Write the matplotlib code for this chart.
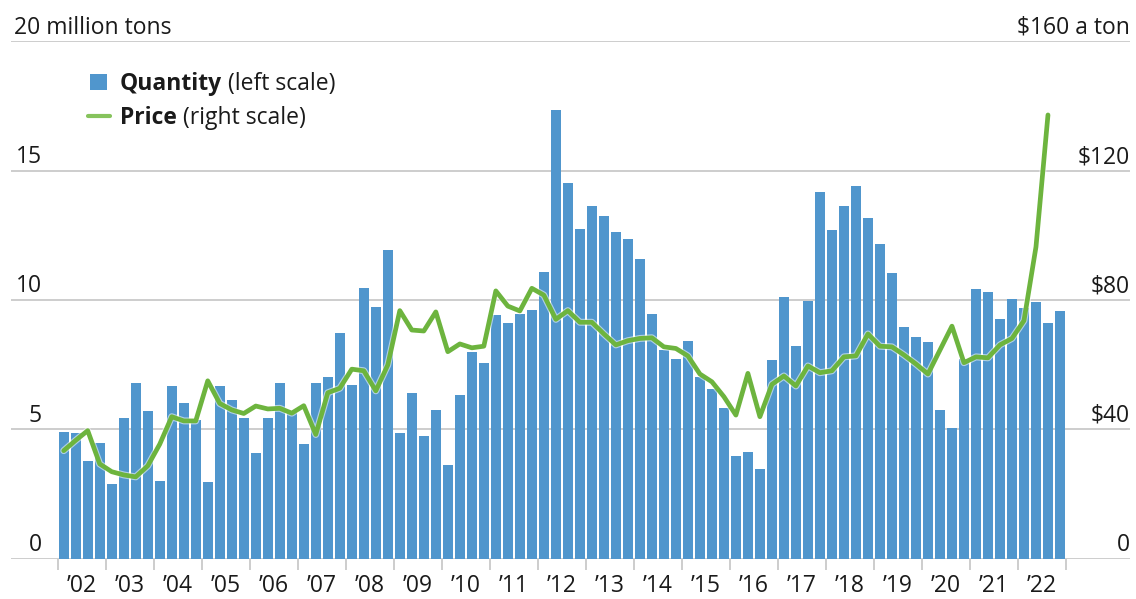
import matplotlib
matplotlib.use("Agg")
import matplotlib.pyplot as plt
import matplotlib.patheffects as pe
from matplotlib.transforms import blended_transform_factory, offset_copy
from matplotlib.patches import Rectangle
from matplotlib.lines import Line2D
import numpy as np

# ---------------- data ----------------
years = ["’02", "’03", "’04", "’05", "’06", "’07", "’08", "’09", "’10", "’11",
         "’12", "’13", "’14", "’15", "’16", "’17", "’18", "’19", "’20", "’21", "’22"]

# quarterly quantity, million tons (2002 Q1 .. 2022 Q4)
quantity = [4.91, 4.84, 3.76, 4.47, 2.89, 5.45, 6.80, 5.72,
            3.01, 6.69, 6.00, 5.36, 2.95, 6.69, 6.13, 5.44,
            4.08, 5.45, 6.80, 5.62, 4.42, 6.80, 7.01, 8.71,
            6.71, 10.47, 9.74, 11.93, 4.84, 6.39, 4.75, 5.75,
            3.62, 6.34, 8.00, 7.57, 9.42, 9.12, 9.44, 9.61,
            11.09, 17.34, 14.51, 12.75, 13.63, 13.25, 12.61, 12.34,
            11.58, 9.44, 8.06, 7.73, 8.42, 7.03, 6.57, 5.82,
            3.98, 4.13, 3.45, 7.68, 10.10, 8.23, 9.95, 14.17,
            12.70, 13.63, 14.40, 13.18, 12.15, 11.04, 8.97, 8.58,
            8.36, 5.75, 5.05, 7.70, 10.41, 10.29, 9.26, 10.05,
            9.67, 9.91, 9.12, 9.56]

# quarterly price, $ a ton (2002 Q1 .. 2022 Q3)
price = [33.4, 36.6, 39.6, 29.3, 26.9, 25.9, 25.3, 28.7,
         35.4, 43.9, 42.6, 42.6, 55.0, 48.0, 46.0, 44.9,
         47.2, 46.3, 46.5, 45.0, 47.3, 38.4, 51.3, 52.7,
         58.6, 58.1, 51.9, 59.9, 76.7, 70.7, 70.4, 76.3,
         64.0, 66.4, 65.2, 65.7, 82.8, 78.1, 76.6, 83.6,
         81.5, 74.0, 76.7, 73.1, 73.1, 69.5, 66.1, 67.4,
         68.1, 68.3, 65.5, 65.0, 62.7, 57.1, 54.7, 50.1,
         44.4, 57.3, 43.9, 53.9, 56.5, 53.4, 59.6, 57.5,
         58.1, 62.4, 62.7, 69.5, 65.7, 65.5, 63.0, 60.2,
         57.1, 64.5, 71.9, 60.6, 62.4, 62.1, 66.1, 68.1,
         73.6, 96.4, 137.2]

left_ticks = [0, 5, 10, 15]
left_top_label = "20 million tons"
right_tick_labels = ["0", "$40", "$80", "$120"]
right_top_label = "$160 a ton"
legend_bold = ["Quantity", "Price"]
legend_rest = [" (left scale)", " (right scale)"]

# ---------------- style ----------------
BLUE = "#5096cd"
GREEN = "#6db43e"
GRID = "#c9c9c9"
TEXT = "#1a1a1a"
FS = 16.5

plt.rcParams['font.family'] = ['Open Sans', 'DejaVu Sans']

W, H = 1136, 599
fig = plt.figure(figsize=(W / 100, H / 100), dpi=100)
ax_l, ax_r, ax_b, ax_t = 11, 1130, 558.7, 41.2
ax = fig.add_axes([ax_l / W, 1 - ax_b / H, (ax_r - ax_l) / W, (ax_b - ax_t) / H])

n_q = len(quantity)
x = np.arange(n_q)
ax.bar(x, quantity, width=0.82, color=BLUE, zorder=2, linewidth=0)

# x-range: year boundary ticks at -0.5 + 4k, 12 px per quarter
ax.set_xlim(-0.5 - (57.7 - ax_l) / 12.0, n_q - 0.5 + (ax_r - 1066) / 12.0)
ax.set_ylim(0, 20)

for v in [0, 5, 10, 15, 20]:
    ax.axhline(v, color=GRID, lw=1.3, zorder=1)

for s in ax.spines.values():
    s.set_visible(False)

ax.set_yticks([])
ax.set_xticks(np.arange(-0.5, n_q, 4))
ax.set_xticklabels([])
ax.tick_params(axis='x', which='major', length=8, width=1.3, color=GRID, direction='out')
ax.set_xticks(np.arange(len(years)) * 4 + 1.5, minor=True)
ax.set_xticklabels(years, minor=True, fontsize=FS, color=TEXT)
ax.tick_params(axis='x', which='minor', length=0, pad=11)

# left labels
trans_l = offset_copy(blended_transform_factory(fig.transFigure, ax.transData), fig=fig, y=7.5, units='dots')
for v in left_ticks:
    ax.text(42 / W, v, str(v), transform=trans_l, ha='right', va='baseline',
            fontsize=FS, color=TEXT)
ax.text(14 / W, 20, left_top_label, transform=trans_l, ha='left', va='baseline',
        fontsize=FS, color=TEXT)

# right axis / price
ax2 = ax.twinx()
ax2.set_ylim(0, 160)
for s in ax2.spines.values():
    s.set_visible(False)
ax2.set_yticks([])
ax2.plot(np.arange(len(price)), price, color=GREEN, lw=3.4, solid_joinstyle='round',
         solid_capstyle='round', zorder=3,
         path_effects=[pe.Stroke(linewidth=5.0, foreground='white', alpha=0.55), pe.Normal()])

trans_r = offset_copy(blended_transform_factory(fig.transFigure, ax2.transData), fig=fig, y=7.5, units='dots')
for v, lab in zip([0, 40, 80, 120], right_tick_labels):
    ax2.text(1130 / W, v, lab, transform=trans_r, ha='right', va='baseline',
             fontsize=FS, color=TEXT)
ax2.text(1130 / W, 160, right_top_label, transform=trans_r, ha='right', va='baseline',
         fontsize=FS, color=TEXT)

# legend (manual)
fig.patches.append(Rectangle((90 / W, 1 - 90 / H), 17 / W, 16 / H, transform=fig.transFigure,
                             facecolor=BLUE, edgecolor='none'))
fig.lines.append(Line2D([88 / W, 110 / W], [1 - 116 / H, 1 - 116 / H], transform=fig.transFigure,
                        color="#86c35c", lw=3.0, solid_capstyle='round'))

fig.canvas.draw()
renderer = fig.canvas.get_renderer()
for bold, rest, base in zip(legend_bold, legend_rest, [89.5, 123.5]):
    t = fig.text(120 / W, 1 - base / H, bold, fontsize=FS, fontweight='bold', color=TEXT,
                 ha='left', va='baseline')
    bb = t.get_window_extent(renderer)
    fig.text(bb.x1 / W, 1 - base / H, rest, fontsize=FS, color=TEXT, ha='left', va='baseline')

fig.savefig("out.png", dpi=100)
